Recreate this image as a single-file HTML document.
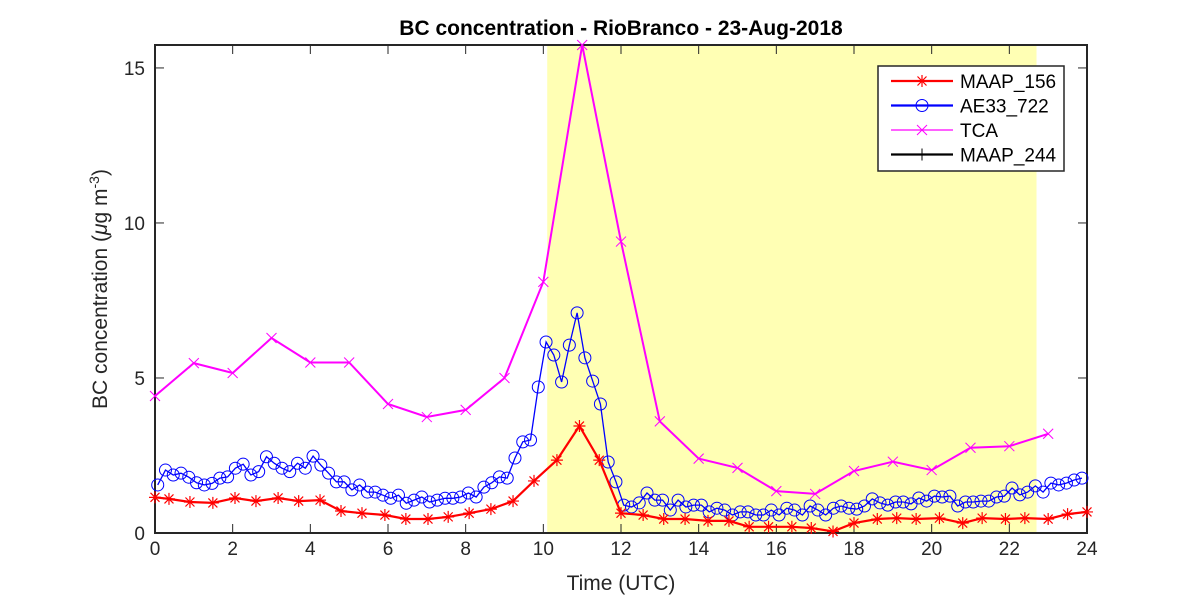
<!DOCTYPE html>
<html><head><meta charset="utf-8"><style>
body{margin:0;background:#fff;}
svg{display:block;font-family:"Liberation Sans","DejaVu Sans",sans-serif;}
</style></head><body>
<svg id="c" width="1200" height="600"></svg>
<script>
const xTicks=[0,2,4,6,8,10,12,14,16,18,20,22,24];
const yTicks=[0,5,10,15];
const shadeRange=[10.1,22.7];
const tcaT=[0,1,2,3,4,5,6,7,8,9,10,11,12,13,14,15,16,17,18,19,20,21,22,23];
const tcaV=[4.42,5.48,5.16,6.29,5.5,5.5,4.16,3.74,3.97,5.0,8.1,15.74,9.4,3.6,2.4,2.1,1.35,1.26,2.0,2.3,2.03,2.75,2.8,3.2];
const maapT=[0,0.36,0.9,1.49,2.06,2.6,3.17,3.7,4.25,4.79,5.33,5.92,6.46,7.03,7.55,8.09,8.65,9.22,9.76,10.35,10.93,11.44,12.0,12.57,13.1,13.65,14.24,14.78,15.3,15.8,16.4,16.9,17.46,18.0,18.6,19.1,19.6,20.2,20.8,21.3,21.9,22.4,23.0,23.5,24];
const maapV=[1.15,1.1,1.0,0.97,1.13,1.03,1.13,1.03,1.06,0.71,0.64,0.58,0.45,0.45,0.52,0.64,0.77,1.03,1.68,2.35,3.45,2.35,0.64,0.58,0.45,0.45,0.39,0.39,0.2,0.2,0.2,0.16,0.05,0.32,0.45,0.48,0.45,0.48,0.32,0.48,0.45,0.48,0.45,0.61,0.68];
const aeStart=0.07, aeStep=0.2;
const aeV=[1.55,2.03,1.87,1.93,1.8,1.62,1.55,1.6,1.77,1.81,2.09,2.22,1.87,1.98,2.46,2.25,2.09,1.98,2.25,2.09,2.48,2.19,1.93,1.65,1.65,1.39,1.55,1.32,1.32,1.22,1.12,1.22,0.96,1.06,1.16,1.0,1.06,1.12,1.12,1.16,1.29,1.16,1.48,1.62,1.81,1.77,2.42,2.94,3.0,4.71,6.16,5.74,4.87,
6.06,7.1,5.65,4.9,4.16,2.29,1.65,0.9,0.84,0.97,1.29,1.06,1.06,0.74,1.06,0.84,0.9,0.9,0.68,0.8,0.74,0.58,0.68,0.68,0.58,0.58,0.74,0.58,0.8,0.74,0.58,0.87,0.74,0.58,
0.8,0.87,0.8,0.77,0.87,1.1,0.97,0.9,1.0,1.0,0.94,1.13,1.03,1.19,1.16,1.19,0.87,1.0,1.0,1.03,1.03,1.16,1.19,1.45,1.23,1.32,1.52,1.32,1.61,1.55,1.61,1.71,1.77];

const svg=document.getElementById('c');
const NS='http://www.w3.org/2000/svg';
const L=155,R=1087,T=45,B=533,XMAX=24,YMAX=15.74;
const X=t=>L+(R-L)*t/XMAX;
const Y=v=>B-(B-T)*v/YMAX;
function el(tag,at,parent){const e=document.createElementNS(NS,tag);for(const k in at)e.setAttribute(k,at[k]);(parent||svg).appendChild(e);return e;}

let sh=el('rect',{x:X(shadeRange[0]),y:T,width:X(shadeRange[1])-X(shadeRange[0]),height:B-T,fill:'#ffffb4'});



// axes box
let ax=el('rect',{x:L,y:T,width:R-L,height:B-T,fill:'none',stroke:'#262626','stroke-width':2});



xTicks.forEach(t=>{
  el('line',{x1:X(t),x2:X(t),y1:B,y2:B-9,stroke:'#262626','stroke-width':1});
  el('line',{x1:X(t),x2:X(t),y1:T,y2:T+9,stroke:'#262626','stroke-width':1});
  let tx=el('text',{x:X(t),y:B+22,'text-anchor':'middle','font-size':19,fill:'#262626'});
  tx.textContent=t;
  
  
});
yTicks.forEach(v=>{
  el('line',{x1:L,x2:L+9,y1:Y(v),y2:Y(v),stroke:'#262626','stroke-width':1});
  el('line',{x1:R,x2:R-9,y1:Y(v),y2:Y(v),stroke:'#262626','stroke-width':1});
  let tx=el('text',{x:L-10,y:Y(v)+7,'text-anchor':'end','font-size':19,fill:'#262626'});
  tx.textContent=v;
  
  
});

function marker(type,x,y,col,g){
  if(type==='star'){
    el('path',{d:`M${x-6} ${y}H${x+6}M${x} ${y-6}V${y+6}M${x-4.5} ${y-4.5}L${x+4.5} ${y+4.5}M${x-4.5} ${y+4.5}L${x+4.5} ${y-4.5}`,stroke:col,'stroke-width':1.2,fill:'none'},g);
  }else if(type==='circle'){
    el('circle',{cx:x,cy:y,r:6,stroke:col,'stroke-width':1,fill:'none'},g);
  }else if(type==='x'){
    el('path',{d:`M${x-5} ${y-5}L${x+5} ${y+5}M${x-5} ${y+5}L${x+5} ${y-5}`,stroke:col,'stroke-width':1,fill:'none'},g);
  }else{
    el('path',{d:`M${x-6} ${y}H${x+6}M${x} ${y-6}V${y+6}`,stroke:col,'stroke-width':1,fill:'none'},g);
  }
}
function series(name,ts,vs,col,w,mk){
  const g=el('g',{});
  
  
  let d=ts.map((t,i)=>(i?'L':'M')+X(t).toFixed(1)+' '+Y(vs[i]).toFixed(1)).join('');
  el('path',{d:d,stroke:col,'stroke-width':w,fill:'none'},g);
  ts.forEach((t,i)=>marker(mk,X(t),Y(vs[i]),col,g));
}
const aeT=aeV.map((v,i)=>aeStart+aeStep*i);
series('tca-series',tcaT,tcaV,'#ff00ff',2,'x');
series('ae33-722-series',aeT,aeV,'#0000ff',1.3,'circle');
series('maap-156-series',maapT,maapV,'#ff0000',2.2,'star');

let title=el('text',{x:621,y:35,'text-anchor':'middle','font-size':21,'font-weight':'bold',fill:'#000'});
title.textContent='BC concentration  - RioBranco - 23-Aug-2018';


let xl=el('text',{x:621,y:590,'text-anchor':'middle','font-size':21,fill:'#262626'});
xl.textContent='Time (UTC)';


let yl=el('text',{x:0,y:0,'text-anchor':'middle','font-size':21,fill:'#262626',transform:'translate(107,289) rotate(-90)'});
yl.innerHTML='BC concentration (<tspan font-style="italic">μ</tspan>g m<tspan dy="-8" font-size="14">-3</tspan><tspan dy="8">)</tspan>';



// legend
const lg=el('g',{});


el('rect',{x:878,y:66,width:186,height:105,fill:'#fff',stroke:'#262626','stroke-width':1.5},lg);
const legNames=['MAAP_156','AE33_722','TCA','MAAP_244'];
const legCols=['#ff0000','#0000ff','#ff00ff','#000000'];
const legMk=['star','circle','x','plus'];
const legW=[2.2,2.2,1.3,2.2];
legNames.forEach((n,i)=>{
  const y=81+i*24.5;
  const g=el('g',{},lg);
  
  
  el('line',{x1:891,x2:953,y1:y,y2:y,stroke:legCols[i],'stroke-width':legW[i]},g);
  marker(legMk[i],922,y,legCols[i],g);
  const t=el('text',{x:960,y:y+7,'font-size':19,fill:'#000'},g);
  t.textContent=n;
});
</script>
</body></html>
